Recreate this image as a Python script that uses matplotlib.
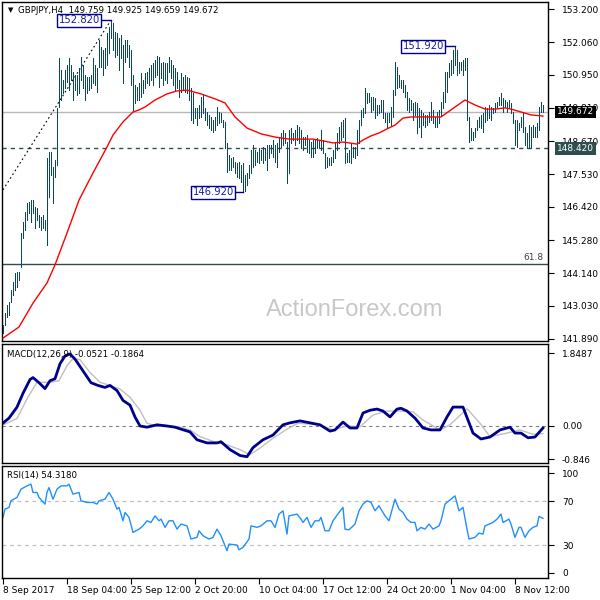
import matplotlib
matplotlib.use('Agg')
import matplotlib.pyplot as plt
import matplotlib.transforms as mtransforms
import numpy as np

# ---------------- data ----------------
highs = [142.37,142.78,143.06,143.16,143.57,143.84,144.15,144.19,144.19,145.52,
 145.90,146.24,146.55,146.59,146.65,146.65,146.41,146.38,146.14,146.07,
 146.14,145.97,148.09,148.30,148.30,147.79,148.02,149.81,151.52,151.11,
 150.77,151.11,151.28,151.52,151.28,151.04,150.94,150.94,151.18,151.55,
 151.28,150.94,150.87,150.87,150.94,151.52,151.28,151.18,152.14,151.90,
 151.79,151.86,152.38,152.58,152.82,152.72,152.41,152.38,152.21,152.31,
 151.97,152.14,152.14,151.97,151.79,150.94,150.60,150.53,150.66,151.01,
 150.77,151.01,151.04,151.18,151.28,151.35,151.45,151.59,151.55,151.35,
 151.38,151.35,151.35,151.55,151.45,151.28,151.18,151.04,150.77,151.01,
 150.87,150.94,150.87,150.84,150.49,150.32,149.81,149.81,149.91,150.18,
 150.25,149.81,149.67,149.57,149.50,149.40,149.50,149.84,149.67,149.64,
 149.40,149.33,148.61,148.20,148.09,148.13,147.96,147.92,147.96,147.85,
 147.92,147.51,147.58,147.85,148.37,148.54,148.37,148.30,148.44,148.37,
 148.47,148.44,148.54,148.54,148.54,148.71,148.54,148.61,148.81,148.95,
 149.05,148.95,148.64,149.05,149.12,148.95,149.05,149.22,149.16,149.05,
 148.81,148.81,148.88,148.71,148.64,148.71,148.71,148.78,148.71,149.05,
 148.71,148.26,148.13,148.09,148.13,148.37,148.64,148.95,149.16,149.33,
 149.40,149.46,148.26,148.37,148.61,148.47,148.47,149.05,149.40,149.74,
 149.81,150.49,150.32,150.32,150.18,150.18,150.15,149.91,149.91,150.08,
 150.08,149.64,149.64,149.64,149.84,150.42,151.38,151.21,150.94,150.77,
 150.77,150.60,150.36,150.15,150.08,149.98,150.01,149.98,149.81,149.74,
 149.64,149.57,149.57,149.67,150.01,149.74,149.50,149.67,149.74,150.01,
 150.36,151.04,151.04,151.35,151.45,151.79,151.92,151.79,151.38,151.38,
 151.45,151.52,151.52,149.50,149.12,148.98,149.12,149.40,149.50,149.57,
 149.64,149.84,149.81,149.91,149.84,149.81,149.98,150.01,150.18,150.32,
 150.15,150.08,150.01,150.08,149.98,149.67,149.40,149.40,149.29,149.50,
 149.67,149.16,148.95,149.22,149.16,149.22,149.16,149.29,149.84,150.01,
 149.925]
lows = [142.10,142.37,142.64,142.71,143.16,143.40,143.57,143.67,143.91,144.36,
 145.35,145.63,145.97,146.21,145.90,146.21,145.69,145.97,145.73,145.63,
 145.69,145.63,145.11,146.76,147.51,146.55,147.44,147.85,149.84,150.08,
 150.32,150.49,150.70,150.42,150.77,150.08,150.42,150.25,150.32,150.77,
 150.49,150.08,150.32,150.42,150.49,150.66,150.60,150.36,151.21,151.21,
 150.94,151.18,151.28,151.69,152.21,151.79,151.55,151.62,151.11,151.52,
 150.66,151.38,151.55,151.21,150.60,149.74,149.98,150.08,150.08,150.18,
 150.32,150.49,150.66,150.60,150.77,150.60,150.87,150.94,150.53,150.84,
 150.60,150.77,150.66,151.04,150.84,150.60,150.42,150.49,150.18,150.36,
 150.42,150.36,150.32,150.08,149.40,149.29,149.46,149.22,149.46,149.50,
 149.64,149.40,149.22,149.12,149.05,148.98,149.05,149.22,149.29,149.33,
 149.16,148.44,147.61,147.68,147.68,147.79,147.58,147.44,147.41,147.27,
 146.92,146.96,147.17,147.41,147.58,147.79,147.85,147.96,147.92,148.02,
 147.92,148.02,147.68,148.09,148.26,148.13,147.96,147.79,148.30,148.47,
 148.54,148.61,147.24,147.58,148.61,148.71,148.54,148.71,148.61,148.44,
 148.37,148.54,148.30,148.26,148.13,148.13,148.26,148.44,148.47,148.37,
 148.26,147.75,147.79,147.85,147.85,147.96,148.09,148.37,148.61,148.71,
 148.81,147.92,147.96,147.96,147.92,148.13,148.09,148.20,148.61,149.22,
 149.50,149.64,149.98,150.01,149.67,149.74,149.46,149.57,149.64,149.67,
 149.46,149.33,149.12,149.33,149.22,149.50,150.25,150.49,150.53,150.49,
 150.36,150.18,149.74,149.67,149.74,149.40,149.57,148.95,149.16,148.81,
 149.22,149.16,149.22,149.33,149.40,149.29,149.16,149.16,149.29,149.57,
 149.81,150.01,150.36,150.87,150.94,151.01,151.28,150.94,151.01,151.11,
 150.94,151.11,149.40,148.64,148.71,148.71,148.81,149.05,149.16,149.12,
 148.98,149.33,149.40,149.46,149.40,149.64,149.67,149.81,149.91,149.91,
 149.67,149.84,149.67,149.81,149.64,149.29,148.54,148.47,149.05,149.16,
 148.98,148.54,148.44,148.47,148.44,148.81,148.81,148.81,149.05,149.67,
 149.659]
last_close = 149.672

ma_idx = [0, 8, 15, 22, 26, 32, 38, 45, 52, 55, 60, 65, 68, 71, 76, 82, 87, 92, 99,
          106, 111, 116, 122, 129, 136, 143, 155, 160, 165, 170, 177, 180, 184, 188,
          192, 196, 200, 204, 211, 219, 226, 231, 236, 241, 246, 251, 254, 259, 264, 270]
ma_vals = [141.92, 142.30, 143.12, 143.81, 144.43, 145.52, 146.65, 147.58, 148.47,
           148.88, 149.33, 149.67, 149.74, 149.84, 150.08, 150.29, 150.39, 150.42,
           150.29, 150.12, 149.98, 149.50, 149.12, 148.92, 148.81, 148.74, 148.74,
           148.68, 148.61, 148.64, 148.57, 148.71, 148.85, 148.95, 149.09, 149.22,
           149.46, 149.50, 149.50, 149.50, 149.84, 150.08, 149.91, 149.77, 149.77,
           149.81, 149.77, 149.67, 149.57, 149.53]

macd_idx = [0, 3, 7, 10, 13.5, 15, 18, 21, 23.5, 26, 28.5, 31, 33.5, 36, 40, 44, 47.5,
            51, 53.5, 57, 60, 63.5, 66, 68.5, 72, 77, 82, 86, 89, 93.5, 97, 102, 107,
            109, 113.5, 118.5, 122, 125, 130, 135, 140, 143.5, 148.5, 153.5, 158.5,
            163.5, 166, 170, 173.5, 177, 180, 183.5, 187, 190, 193.5, 197, 199, 202,
            206, 210, 214, 218.5, 222, 225, 230, 232.5, 235, 239, 243.5, 248.5,
            253.5, 256, 259, 262.5, 266, 270]
macd_vals = [0.075, 0.2, 0.48, 0.83, 1.18, 1.23, 1.1, 0.95, 1.15, 1.2,
             1.58, 1.78, 1.83, 1.70, 1.40, 1.10, 1.03, 0.98, 1.03, 0.90,
             0.65, 0.53, 0.23, 0.0, -0.03, 0.03, 0.0, -0.03, -0.08, -0.15,
             -0.35, -0.43, -0.43, -0.40, -0.60, -0.75, -0.78, -0.55, -0.35, -0.23,
             0.03, 0.08, 0.13, 0.08, 0.03, -0.13, -0.10, 0.10, -0.05, -0.05,
             0.33, 0.40, 0.43, 0.38, 0.23, 0.43, 0.45, 0.38, 0.20, -0.05,
             -0.10, -0.10, 0.23, 0.48, 0.48, 0.15, -0.18, -0.33, -0.28, -0.10,
             -0.03, -0.18, -0.18, -0.30, -0.28, -0.05]
sig_idx = [0, 7, 12, 17, 23.5, 28, 32, 34.5, 38.5, 43.5, 48.5, 53.5, 58.5, 63.5,
           68.5, 72, 77, 82, 88.5, 93.5, 98.5, 105, 112, 118.5, 123.5, 128.5, 135,
           142, 147.5, 158.5, 165, 172, 178.5, 185, 192, 198.5, 205, 210, 218.5,
           223.5, 232, 238.5, 243.5, 252, 258.5, 265, 270]
sig_vals = [0.03, 0.19, 0.69, 1.11, 1.11, 1.15, 1.53, 1.69, 1.69, 1.36,
            1.11, 1.03, 0.94, 0.73, 0.40, 0.07, 0.0, 0.0, -0.03, -0.10,
            -0.27, -0.39, -0.48, -0.60, -0.73, -0.56, -0.31, -0.08, 0.07, 0.03,
            -0.10, 0.0, -0.02, 0.28, 0.38, 0.38, 0.36, 0.15, -0.10, 0.03,
            0.44, 0.07, -0.27, -0.18, -0.10, -0.21, -0.19]

rsi_idx = [0, 1, 3, 4, 7, 9, 12, 14, 15, 17, 18, 21, 22, 23, 25, 27, 29, 32, 33, 35,
           38, 39, 42, 45, 47, 48, 51, 53, 55, 57, 58, 60, 61, 63, 65, 68, 70, 72, 74, 76,
           78, 79, 81, 83, 85, 87, 89, 92, 94, 97, 98, 100, 103, 105, 107, 109, 112, 113,
           117, 118, 120, 123, 124, 127, 129, 132, 134, 136, 138, 140, 142, 143, 147,
           149, 150, 152, 154, 156, 158, 159, 161, 163, 165, 168, 170, 171, 173, 176,
           178, 180, 182, 184, 186, 188, 191, 193, 196, 198, 200, 202, 204, 206, 207,
           209, 211, 213, 215, 218, 219, 221, 223, 226, 228, 230, 232, 233, 236, 238,
           240, 241, 243, 245, 247, 249, 250, 253, 254, 256, 258, 259, 261, 263, 265,
           267, 268, 270]
rsi_vals = [55.2, 62.7, 64.3, 70.3, 73.4, 80.9, 83.9, 85.5, 77.9, 77.9,
            73.4, 67.3, 78.0, 82.4, 71.8, 80.9, 83.9, 83.9, 85.5, 76.4,
            77.9, 70.3, 68.8, 68.8, 67.3, 70.3, 71.8, 77.9, 71.8, 62.7,
            64.3, 52.1, 59.7, 55.2, 41.5, 44.5, 47.5, 52.1, 50.6, 56.6,
            52.1, 53.6, 46.1, 52.1, 52.1, 44.5, 49.1, 47.5, 35.5, 37.0,
            43.0, 38.5, 35.5, 37.0, 44.5, 38.5, 24.8, 30.9, 30.0, 25.7,
            27.9, 35.5, 47.5, 46.1, 47.5, 52.1, 52.1, 46.1, 58.2, 61.2,
            40.0, 56.6, 58.2,
            53.6, 50.6, 55.2, 46.1, 52.1, 52.1, 55.2, 43.0, 43.0, 52.1,
            59.7, 64.3, 44.5, 43.9, 49.1, 61.2, 67.3, 70.3, 68.8, 61.2,
            65.8, 56.6, 52.1, 71.8, 62.7, 59.7, 53.6, 50.6, 50.6, 43.0,
            46.1, 44.5, 49.1, 44.5, 47.5, 52.1, 67.3, 70.3, 74.8, 61.2,
            64.3, 44.5, 35.5, 37.0, 40.9, 40.0, 47.5, 49.1, 50.6, 53.6,
            58.2, 50.6, 53.6, 49.1, 37.0, 46.1, 46.1, 37.0, 43.0, 46.1,
            47.5, 56.1, 54.3]

x_tick_idx = [0, 32, 64, 96, 128, 160, 192, 224, 256]
x_tick_labels = ['8 Sep 2017', '18 Sep 04:00', '25 Sep 12:00', '2 Oct 20:00',
                 '10 Oct 04:00', '17 Oct 12:00', '24 Oct 20:00', '1 Nov 04:00',
                 '8 Nov 12:00']
price_ticks = [153.200, 152.060, 150.950, 149.810, 148.670, 147.530, 146.420,
               145.280, 144.140, 143.030, 141.890]
macd_ticks = [1.8487, 0.0, -0.846]
macd_tick_labels = ['1.8487', '0.00', '-0.846']
rsi_tick_labels = ['100', '70', '30', '0']

support_level = 148.420
fib_level = 144.46
trend_start = (0, 147.0)
peak1 = (54, 152.820)
trough = (120, 146.920)
peak2 = (226, 151.920)

title = 'GBPJPY,H4  149.759 149.925 149.659 149.672'
macd_title = 'MACD(12,26,9) -0.0521 -0.1864'
rsi_title = 'RSI(14) 54.3180'

# ---------------- styling ----------------
BAR = '#0a4766'
NAVY = '#00008b'
FS = 6.5
plt.rcParams['font.family'] = ['DejaVu Sans']

fig = plt.figure(figsize=(6, 6), dpi=100)
W = H = 600.0
def rect(x0, y0, x1, y1):
    return [x0 / W, 1 - y1 / H, (x1 - x0) / W, (y1 - y0) / H]

ax1 = fig.add_axes(rect(2, 2, 548, 341))
ax2 = fig.add_axes(rect(2, 344, 548, 463))
ax3 = fig.add_axes(rect(2, 466, 548, 578))

n = len(highs)
idx = np.arange(n)
for ax in (ax1, ax2, ax3):
    ax.set_xlim(-0.5, 272.5)
    ax.yaxis.tick_right()
    ax.tick_params(axis='y', direction='out', length=4, width=0.8, pad=6,
                   labelsize=FS, colors='black')
    for s in ax.spines.values():
        s.set_linewidth(1.0)
        s.set_color('black')
    ax.set_facecolor('white')
for ax in (ax1, ax2):
    ax.tick_params(axis='x', length=0, labelbottom=False)

# ----- price panel -----
ax1.set_ylim(141.82, 153.44)
ax1.vlines(idx, lows, highs, colors=BAR, lw=0.72, antialiased=False, zorder=3)
ax1.plot(ma_idx, ma_vals, color='#ff0000', lw=1.0, zorder=4)
ax1.axhline(last_close, color='#b8b8b8', lw=1.0, zorder=1)
ax1.axhline(support_level, color='#2f4f4f', lw=1.0, ls=(0, (3, 3)), zorder=2)
ax1.axhline(fib_level, color='#2f4f4f', lw=1.0, zorder=2)
ax1.text(270, fib_level + 0.08, '61.8', fontsize=FS, color='#404040',
         ha='right', va='bottom')
ax1.plot([trend_start[0], peak1[0]], [trend_start[1], peak1[1]], color='black',
         lw=0.8, ls=(0, (1.5, 2.5)), zorder=2)

box = dict(boxstyle='square,pad=0.15', fc='white', ec=NAVY, lw=1.0)
for (pi, pv), off in ((peak1, 5), (trough, 4), (peak2, 5)):
    ax1.plot([pi - off, pi], [pv, pv], color=NAVY, lw=1.0, zorder=5)
    ax1.text(pi - off - 0.6, pv, f'{pv:.3f}', fontsize=7.2, color='#1a1aa8',
             ha='right', va='center', bbox=box, zorder=6)

ax1.set_yticks(price_ticks)
ax1.set_yticklabels([f'{t:.3f}' for t in price_ticks])
tr = mtransforms.blended_transform_factory(ax1.transAxes, ax1.transData)
ax1.text(1.016, last_close, f'{last_close:.3f}', transform=tr, fontsize=FS,
         color='white', va='center', ha='left', zorder=10, clip_on=False,
         bbox=dict(boxstyle='square,pad=0.2', fc='black', ec='none'))
ax1.text(1.016, support_level, f'{support_level:.3f}', transform=tr, fontsize=FS,
         color='white', va='center', ha='left', zorder=10, clip_on=False,
         bbox=dict(boxstyle='square,pad=0.2', fc='#2f4f4f', ec='none'))

ax1.text(0.6465, 0.091, 'ActionForex.com', transform=ax1.transAxes,
         family='Liberation Sans', fontsize=17, color='#c8c8c8',
         ha='center', va='center', zorder=0)

fig.text(8 / W, 1 - 10.5 / H, '\u25BC', fontsize=5, color='black', va='center', ha='left')
fig.text(18 / W, 1 - 10.5 / H, title, fontsize=6.2, color='black', va='center', ha='left')

# ----- MACD panel -----
ax2.set_ylim(-0.94, 2.083)
ax2.axhline(0, color='#808080', lw=0.8, ls=(0, (3, 3)))
ax2.plot(sig_idx, sig_vals, color='#c0c0c0', lw=1.0)
ax2.plot(macd_idx, macd_vals, color=NAVY, lw=2.0)
ax2.set_yticks(macd_ticks)
ax2.set_yticklabels(macd_tick_labels)
fig.text(7 / W, 1 - 354 / H, macd_title, fontsize=6.2, color='black', va='center', ha='left')

# ----- RSI panel -----
ax3.set_ylim(0, 102)
for lvl in (70, 30):
    ax3.axhline(lvl, color='#c0c0c0', lw=0.9, ls=(0, (3, 3)))
ax3.plot(rsi_idx, rsi_vals, color='#1e90ff', lw=1.0)
# MT4 draws the 100 / 0 labels slightly inset from the panel edges
ax3.set_yticks([95.6, 70, 30, 4.6])
ax3.set_yticklabels(rsi_tick_labels)
fig.text(7 / W, 1 - 475.5 / H, rsi_title, fontsize=6.2, color='black', va='center', ha='left')

ax3.set_xticks(x_tick_idx)
ax3.set_xticklabels(x_tick_labels, ha='left')
ax3.tick_params(axis='x', direction='out', length=4, width=0.8, pad=2,
                labelsize=FS, colors='black')

fig.savefig('out.png', dpi=100, facecolor='white')
